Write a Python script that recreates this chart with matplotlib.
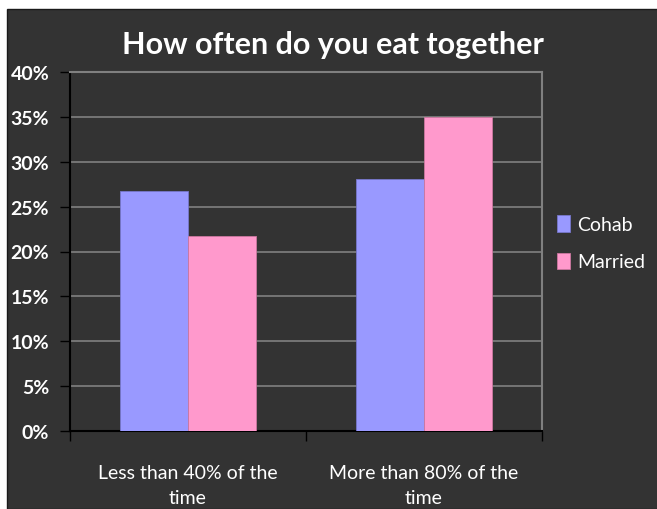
import numpy as np
import matplotlib.pyplot as plt
from matplotlib.patches import Rectangle
from matplotlib.ticker import PercentFormatter

categories = ["Less than 40% of the\ntime", "More than 80% of the\ntime"]
cohab = [26.7, 28.1]
married = [21.7, 35.0]

plt.rcParams['font.family'] = ['Lato', 'DejaVu Sans']

fig = plt.figure(figsize=(6.57, 5.10), dpi=100, facecolor="white")
# dark chart area with a thin white margin at top and left
fig.patches.append(Rectangle((7 / 657, 0), 1, 1 - 10 / 510, transform=fig.transFigure,
                             facecolor="#333333", edgecolor="#1a1a1a", lw=1, zorder=-1))

ax = fig.add_axes([70 / 657, 1 - 432 / 510, 472 / 657, 359 / 510])
ax.set_facecolor("#333333")

x = np.arange(len(categories))
w = 0.29
ax.bar(x - w / 2, cohab, w, color="#9999FF", edgecolor="#7777cc", lw=0.6, label="Cohab", zorder=3)
ax.bar(x + w / 2, married, w, color="#FF99CC", edgecolor="#cc77a0", lw=0.6, label="Married", zorder=3)

ax.set_xlim(-0.5, 1.5)
ax.set_ylim(0, 40)
ax.set_yticks(np.arange(0, 41, 5))
ax.yaxis.set_major_formatter(PercentFormatter(decimals=0))
ax.grid(axis="y", color="#808080", lw=1.2, zorder=0)

ax.set_xticks([-0.5, 0.5, 1.5])
ax.set_xticklabels([])
ax.set_xticks(x, minor=True)
ax.set_xticklabels(categories, minor=True)
ax.tick_params(axis="x", which="minor", length=0, pad=24, labelsize=14, colors="white")
ax.tick_params(axis="x", which="major", length=7, color="black", width=1)
ax.tick_params(axis="y", length=7, color="black", width=1, labelsize=14, labelcolor="white", pad=8)
for lab in ax.get_xticklabels(minor=True):
    lab.set_linespacing(1.55)
for lab in ax.get_yticklabels():
    lab.set_fontweight("bold")

ax.spines["left"].set_color("black")
ax.spines["bottom"].set_color("black")
ax.spines["top"].set_color("#808080")
ax.spines["right"].set_color("#808080")
for s in ax.spines.values():
    s.set_linewidth(1.5)

fig.text(333 / 657, 1 - 45 / 510, "How often do you eat together", color="white",
         fontsize=22, fontweight="bold", ha="center", va="center")

ax.legend(loc="center left", bbox_to_anchor=(1.015, 0.524), frameon=False, labelcolor="white",
          fontsize=14, handlelength=0.7, handleheight=0.9, handletextpad=0.35, labelspacing=1.0,
          borderaxespad=0)

fig.savefig("out.png", dpi=100, facecolor=fig.get_facecolor())
